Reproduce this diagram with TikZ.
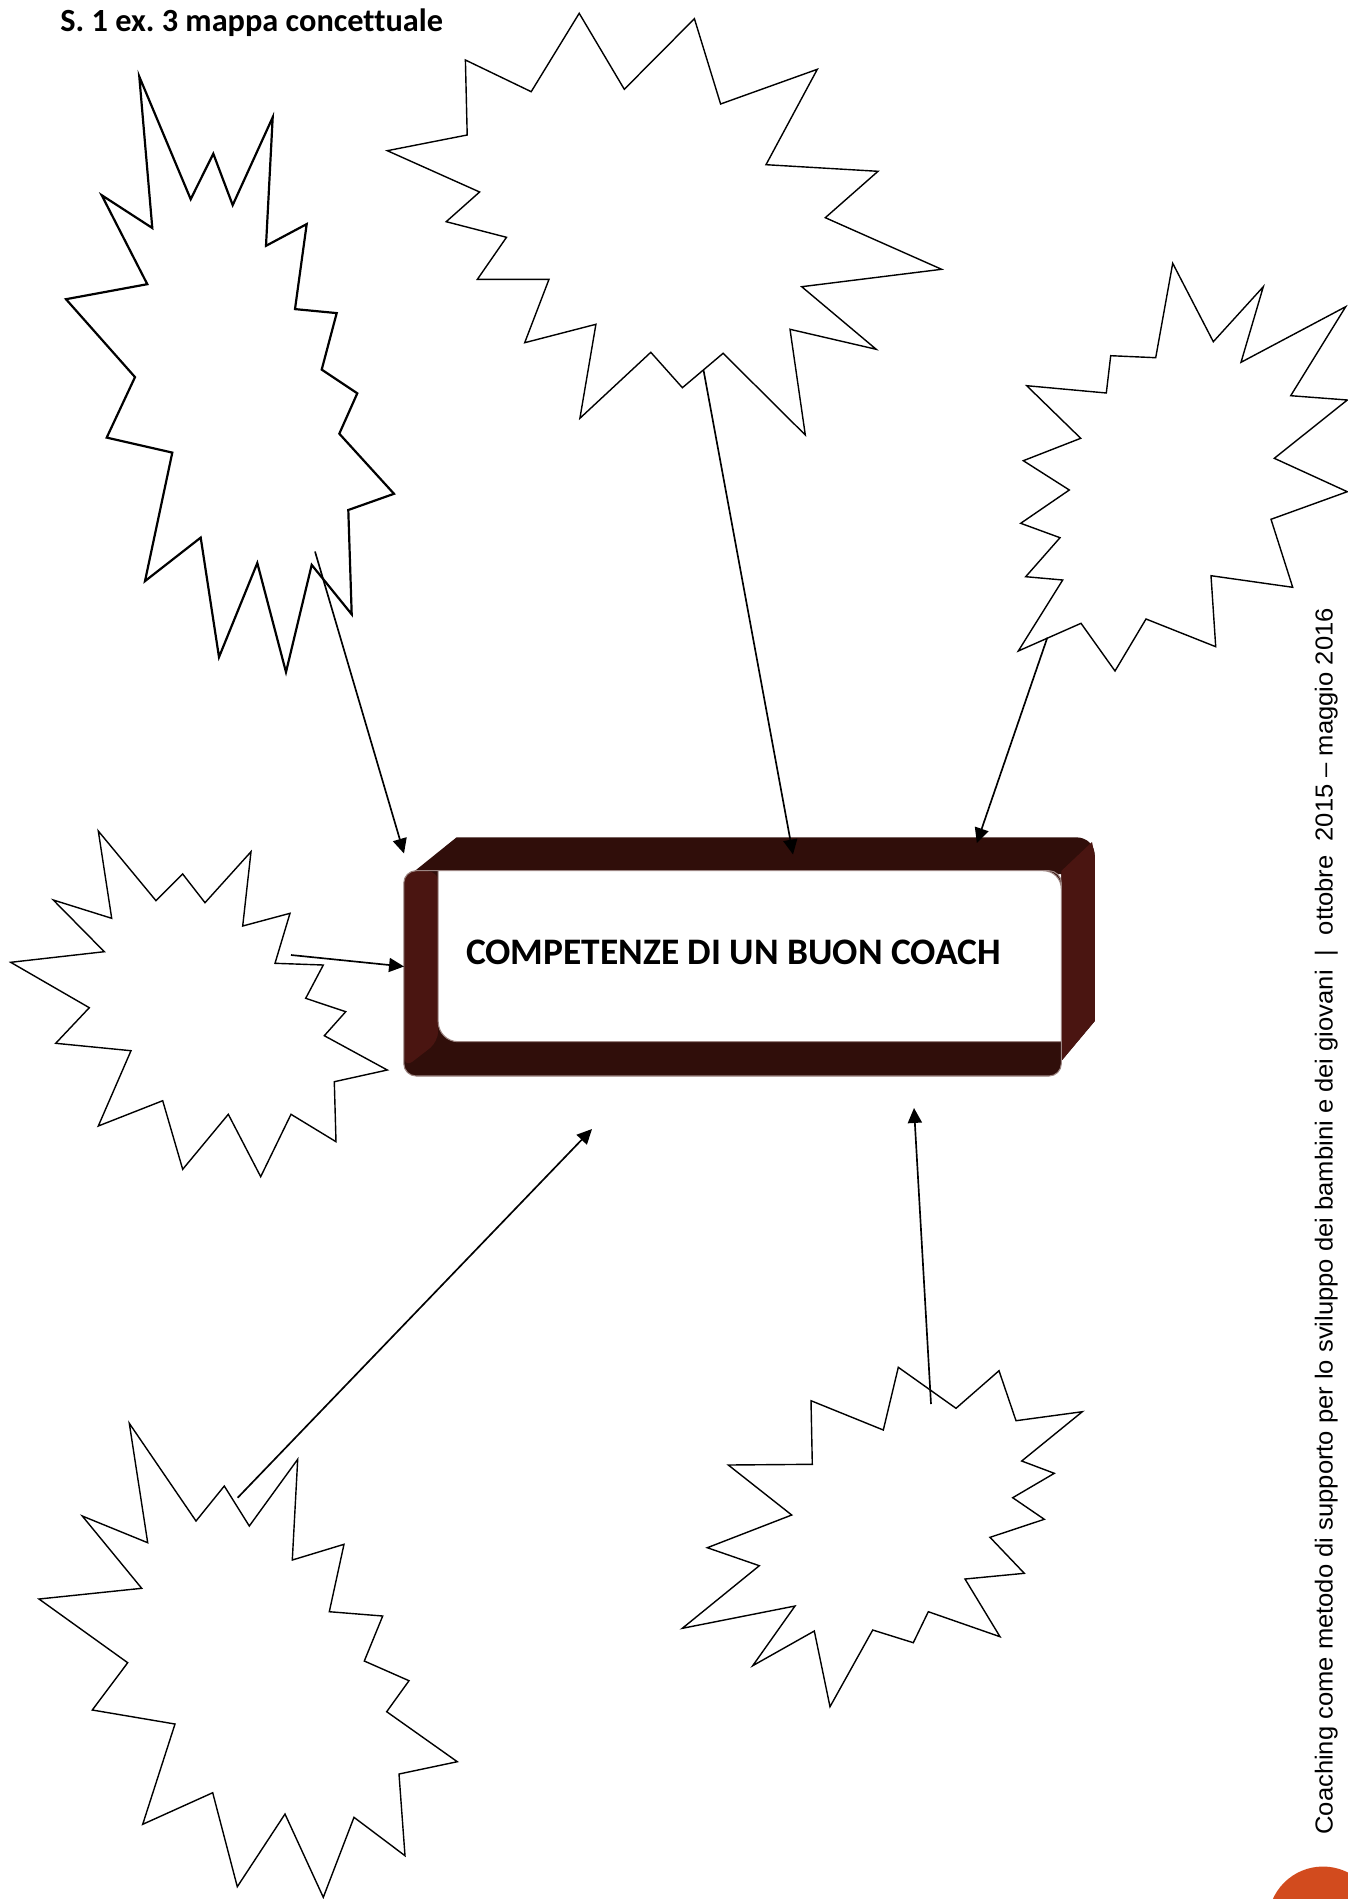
\documentclass[tikz,border=0pt]{standalone}
\usepackage{fontspec}
\setmainfont[Ligatures=NoCommon]{Carlito}
\newfontfamily\footerfont{Liberation Sans}
\usepackage{graphicx}
\usetikzlibrary{arrows.meta}
\frenchspacing

\definecolor{bandtop}{HTML}{300E0A}
\definecolor{bandside}{HTML}{4A1511}
\definecolor{bandrim}{HTML}{9C8582}
\definecolor{pageorange}{HTML}{D24B1E}

\begin{document}
\begin{tikzpicture}[x=0.02cm, y=-0.02cm,
    burst/.style={draw, fill=white, line width=0.8pt, line join=miter},
    arrow/.style={-{Triangle[length=8.5pt, width=8pt]}, line width=0.95pt},
    title/.style={anchor=base west, inner sep=0pt, font=\fontsize{18.4}{21}\selectfont\bfseries},
    label/.style={anchor=base west, inner sep=0pt, font=\fontsize{21.3}{24}\selectfont\bfseries},
    footer/.style={anchor=base west, inner sep=0pt, rotate=90, font=\footerfont\fontsize{14}{16}\selectfont}
]
\path[use as bounding box, fill=white] (0,0) rectangle (1348,1899);

\node[title] (title) at (60,31.7) {S. 1 ex. 3 mappa concettuale};

\draw[burst, line width=1.25pt] (139.3,76.6) -- (152.3,228.0) -- (101.7,195.2) -- (147.3,284.2) -- (66.0,299.2) -- (135.0,377.1) -- (106.7,437.6) -- (172.3,452.6) -- (145.0,581.1) -- (200.7,537.6) -- (219.0,657.1) -- (257.3,563.0) -- (286.0,672.1) -- (311.7,564.9) -- (351.7,614.3) -- (348.3,510.0) -- (394.0,493.8) -- (339.3,433.7) -- (357.3,393.3) -- (321.7,369.6) -- (336.7,313.1) -- (295.0,309.1) -- (306.7,224.1) -- (266.0,245.8) -- (272.7,117.3) -- (232.7,205.1) -- (213.3,153.7) -- (190.7,199.2) -- cycle;
\draw[burst] (579.2,13.3) -- (624.3,89.3) -- (694.4,18.7) -- (720.6,104.0) -- (817.3,69.3) -- (766.0,164.7) -- (878.0,171.3) -- (825.3,217.7) -- (941.6,269.3) -- (801.7,286.7) -- (876.2,349.3) -- (790.0,329.3) -- (805.3,435.0) -- (723.1,353.3) -- (682.4,387.7) -- (650.8,352.3) -- (579.9,418.3) -- (595.9,324.3) -- (524.7,342.7) -- (549.0,279.3) -- (477.4,279.3) -- (506.5,237.3) -- (446.2,221.7) -- (479.6,192.0) -- (387.3,150.7) -- (467.2,135.0) -- (465.4,60.0) -- (531.2,91.7) -- cycle;
\draw[burst] (1172.7,263.3) -- (1213.3,341.7) -- (1263.3,286.7) -- (1241.0,362.3) -- (1345.7,306.7) -- (1290.7,395.7) -- (1347.3,400.0) -- (1274.3,458.3) -- (1347.3,491.7) -- (1271.0,519.3) -- (1292.7,587.3) -- (1211.0,575.7) -- (1215.7,646.7) -- (1146.0,619.0) -- (1115.0,671.0) -- (1081.0,623.3) -- (1018.3,651.0) -- (1062.7,580.0) -- (1025.7,576.7) -- (1060.0,537.7) -- (1020.7,523.3) -- (1069.3,490.0) -- (1023.3,460.7) -- (1080.7,438.3) -- (1026.7,385.7) -- (1106.3,393.0) -- (1110.7,355.7) -- (1155.7,357.7) -- cycle;
\draw[burst] (98.3,831.0) -- (156.0,900.7) -- (182.7,874.0) -- (205.0,902.7) -- (251.0,851.7) -- (242.7,926.0) -- (290.0,913.3) -- (275.0,963.3) -- (323.3,965.0) -- (305.7,998.3) -- (345.7,1011.7) -- (324.3,1035.7) -- (387.3,1070.0) -- (334.3,1081.7) -- (336.0,1141.7) -- (291.0,1114.3) -- (260.7,1176.7) -- (228.3,1114.3) -- (182.7,1169.3) -- (162.7,1100.7) -- (98.3,1126.0) -- (131.0,1050.7) -- (55.7,1043.3) -- (89.3,1007.7) -- (10.7,962.3) -- (104.3,951.7) -- (53.3,900.0) -- (111.7,918.3) -- cycle;
\draw[burst] (129.3,1423.3) -- (196.0,1521.0) -- (224.3,1486.0) -- (249.3,1526.0) -- (297.7,1459.3) -- (292.3,1560.0) -- (344.0,1544.3) -- (329.3,1611.7) -- (382.7,1616.0) -- (364.3,1661.0) -- (409.0,1680.7) -- (386.7,1711.7) -- (457.3,1761.7) -- (399.0,1774.0) -- (405.0,1855.7) -- (354.0,1817.3) -- (323.3,1897.3) -- (285.0,1814.0) -- (237.3,1886.7) -- (212.7,1792.7) -- (142.7,1824.3) -- (175.0,1724.0) -- (92.3,1710.0) -- (127.7,1662.7) -- (39.0,1599.0) -- (141.7,1588.3) -- (82.3,1516.0) -- (147.7,1542.7) -- cycle;
\draw[burst] (898.3,1367.3) -- (956.0,1408.3) -- (999.0,1370.7) -- (1016.0,1420.7) -- (1082.3,1411.7) -- (1021.7,1461.0) -- (1054.3,1473.3) -- (1012.7,1497.7) -- (1044.3,1519.3) -- (990.0,1537.3) -- (1024.3,1573.3) -- (965.0,1579.0) -- (1000.0,1636.7) -- (928.3,1611.7) -- (913.3,1642.7) -- (872.7,1630.0) -- (830.0,1706.7) -- (814.3,1631.0) -- (752.7,1665.7) -- (795.0,1606.0) -- (682.3,1628.3) -- (759.3,1565.7) -- (707.3,1547.7) -- (791.7,1515.0) -- (728.3,1465.0) -- (812.3,1464.3) -- (811.0,1400.7) -- (883.3,1430.0) -- cycle;

\fill[bandtop] (411,874) -- (456.6,837.3) -- (1076,837.3) .. controls (1087,837.3) and (1094.8,845) .. (1094.8,856) -- (1094.8,1021) -- (1061.3,1061) -- (1061.3,874) -- cycle;
\fill[bandside] (1061.3,871) -- (1092,842) -- (1094.8,856) -- (1094.8,1021) -- (1061.3,1061) -- cycle;
\fill[bandtop, rounded corners=7pt] (403.8,870.7) rectangle (1061.3,1076);
\fill[bandside, rounded corners=6pt] (404.3,1068) -- (404.3,871.2) -- (438.2,871.2) -- (438.2,1041.7) -- cycle;
\draw[bandrim, line width=0.6pt, rounded corners=7pt] (403.8,870.7) rectangle (1061.3,1076);
\filldraw[fill=white, draw=bandrim, line width=0.6pt] (438.2,870.7) -- (1043.3,870.7) .. controls (1053.3,870.7) and (1061.3,878.7) .. (1061.3,888.7) -- (1061.3,1041.7) -- (458.2,1041.7) .. controls (447.2,1041.7) and (438.2,1032.7) .. (438.2,1021.7) -- cycle;
\node[label] (coach) at (465.8,964) {COMPETENZE DI UN BUON COACH};

\coordinate (fromA) at (315,551.5);
\coordinate (fromB) at (703.5,370);
\coordinate (fromC) at (1047.3,637.7);
\coordinate (fromD) at (291,955);
\coordinate (fromE) at (237.7,1497.7);
\coordinate (fromF) at (931,1404);
\coordinate (toA) at (404,853.5);
\coordinate (toB) at (793,854.5);
\coordinate (toC) at (976.8,843);
\coordinate (toD) at (404,966.5);
\coordinate (toE) at (592,1129);
\coordinate (toF) at (914,1108);

\draw[arrow] (fromA) -- (toA);
\draw[arrow] (fromB) -- (toB);
\draw[arrow] (fromC) -- (toC);
\draw[arrow] (fromD) -- (toD);
\draw[arrow] (fromE) -- (toE);
\draw[arrow] (fromF) -- (toF);

\node[footer] (footer) at (1332.5,1835) {\resizebox{24.54cm}{\height}{Coaching come metodo di supporto per lo sviluppo dei bambini e dei giovani \ | \ ottobre \ 2015 – maggio 2016}};
\fill[pageorange] (1323,1921.5) circle[radius=1.1cm];
\end{tikzpicture}
\end{document}
